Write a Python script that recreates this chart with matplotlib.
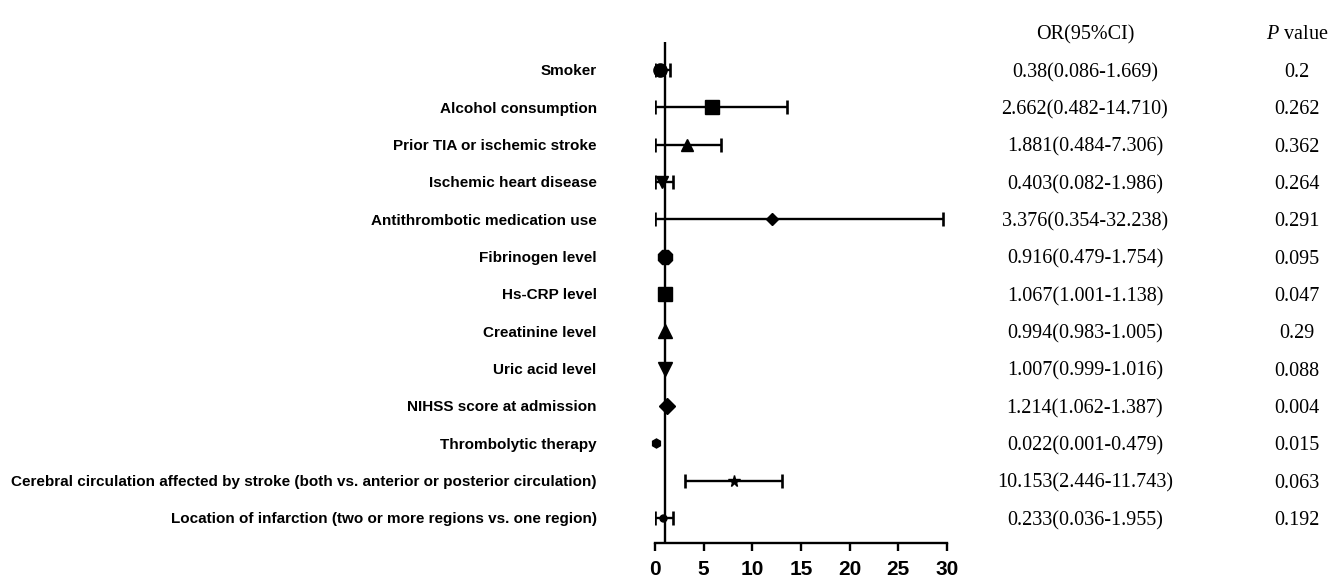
import matplotlib
matplotlib.use("Agg")
import matplotlib.pyplot as plt
from matplotlib.transforms import blended_transform_factory
import numpy as np

plt.rcParams["mathtext.fontset"] = "custom"
plt.rcParams["mathtext.it"] = "Liberation Serif:italic"
plt.rcParams["mathtext.rm"] = "Liberation Serif"

labels = [
    "Smoker",
    "Alcohol consumption",
    "Prior TIA or ischemic stroke",
    "Ischemic heart disease",
    "Antithrombotic medication use",
    "Fibrinogen level",
    "Hs-CRP level",
    "Creatinine level",
    "Uric acid level",
    "NIHSS score at admission",
    "Thrombolytic therapy",
    "Cerebral circulation affected by stroke (both vs. anterior or posterior circulation)",
    "Location of infarction (two or more regions vs. one region)",
]
# plotted positions as drawn in the figure
point = [0.5, 5.9, 3.25, 0.7, 12.0, 1.03, 1.03, 1.0, 1.0, 1.2, 0.1, 8.1, 0.8]
ci_low = [0.0, 0.0, 0.0, 0.0, 0.0, None, None, None, None, None, None, 3.08, 0.0]
ci_high = [1.54, 13.6, 6.8, 1.8, 29.6, None, None, None, None, None, None, 13.08, 1.8]
markers = ["o", "s", "^", "v", "D", "8", "s", "^", "v", "D", "h", "*", "o"]
msizes = [9.5, 9.5, 8.5, 9, 6.5, 11, 10.5, 10, 10, 8, 6.5, 8.5, 5]
or_text = [
    "0.38(0.086-1.669)", "2.662(0.482-14.710)", "1.881(0.484-7.306)",
    "0.403(0.082-1.986)", "3.376(0.354-32.238)", "0.916(0.479-1.754)",
    "1.067(1.001-1.138)", "0.994(0.983-1.005)", "1.007(0.999-1.016)",
    "1.214(1.062-1.387)", "0.022(0.001-0.479)", "10.153(2.446-11.743)",
    "0.233(0.036-1.955)",
]
p_text = ["0.2", "0.262", "0.362", "0.264", "0.291", "0.095", "0.047", "0.29",
          "0.088", "0.004", "0.015", "0.063", "0.192"]
xticks = [0, 5, 10, 15, 20, 25, 30]

W, H = 1333, 579
fig = plt.figure(figsize=(W / 100, H / 100), dpi=100)
ax = fig.add_axes([655 / W, 1 - 543 / H, (947 - 655) / W, (543 - 42) / H])

n = len(labels)
y = np.arange(n)

ax.axvline(1, color="black", lw=1.7, zorder=1)

for i in range(n):
    if ci_low[i] is not None:
        ax.errorbar(point[i], y[i], xerr=[[point[i] - ci_low[i]], [ci_high[i] - point[i]]],
                    fmt="none", ecolor="black", elinewidth=1.7, capsize=5,
                    capthick=1.9, zorder=2)
    ax.plot(point[i], y[i], marker=markers[i], markersize=msizes[i], color="black",
            linestyle="none", zorder=3, clip_on=False)

ax.set_xlim(0, 30)
ax.set_ylim(n - 1 + 0.67, -0.75)
ax.set_xticks(xticks)
ax.set_xticklabels([str(t) for t in xticks], fontsize=15, fontweight="bold",
                   family="Liberation Sans")
ax.tick_params(axis="x", direction="out", length=6, width=1.7, pad=6)
ax.set_yticks(y)
ax.set_yticklabels(labels, fontsize=11, fontweight="bold", family="Liberation Sans")
ax.tick_params(axis="y", length=0, pad=42)
for s in ["top", "right", "left"]:
    ax.spines[s].set_visible(False)
ax.spines["bottom"].set_linewidth(1.7)
ax.patch.set_alpha(0)

tr = blended_transform_factory(fig.transFigure, ax.transData)
fs = 14.5
ax.text(1085 / W, -1.02, "OR(95%CI)", transform=tr, ha="center", va="center_baseline",
        fontsize=fs, family="Liberation Serif", clip_on=False)
ax.text(1297 / W, -1.02, r"$\mathit{P}$ value", transform=tr, ha="center",
        va="center_baseline", fontsize=fs, family="Liberation Serif", clip_on=False)
for i in range(n):
    ax.text(1085 / W, y[i], or_text[i], transform=tr, ha="center", va="center_baseline",
            fontsize=fs, family="Liberation Serif", clip_on=False)
    ax.text(1297 / W, y[i], p_text[i], transform=tr, ha="center", va="center_baseline",
            fontsize=fs, family="Liberation Serif", clip_on=False)

fig.savefig("out.png", dpi=100)
